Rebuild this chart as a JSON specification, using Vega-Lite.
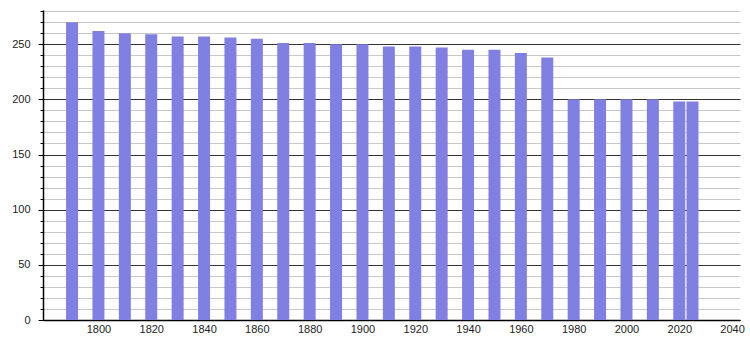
{
  "$schema": "https://vega.github.io/schema/vega-lite/v6.json",
  "autosize": "none",
  "padding": {"left": 43, "top": 10, "right": 10, "bottom": 20},
  "width": 697,
  "height": 310,
  "background": "white",
  "config": {
    "view": {"stroke": null},
    "axis": {"labelFont": "Liberation Sans", "labelFontSize": 11, "labelColor": "#222"}
  },
  "data": {
    "values": [
      {"year": 1790, "population": 270},
      {"year": 1800, "population": 262},
      {"year": 1810, "population": 260},
      {"year": 1820, "population": 259},
      {"year": 1830, "population": 257},
      {"year": 1840, "population": 257},
      {"year": 1850, "population": 256},
      {"year": 1860, "population": 255},
      {"year": 1870, "population": 251},
      {"year": 1880, "population": 251},
      {"year": 1890, "population": 250},
      {"year": 1900, "population": 250},
      {"year": 1910, "population": 248},
      {"year": 1920, "population": 248},
      {"year": 1930, "population": 247},
      {"year": 1940, "population": 245},
      {"year": 1950, "population": 245},
      {"year": 1960, "population": 242},
      {"year": 1970, "population": 238},
      {"year": 1980, "population": 200},
      {"year": 1990, "population": 200},
      {"year": 2000, "population": 200},
      {"year": 2010, "population": 200},
      {"year": 2020, "population": 198},
      {"year": 2025, "population": 198}
    ]
  },
  "mark": {"type": "bar", "width": 12, "color": "#8080e2"},
  "encoding": {
    "x": {
      "field": "year",
      "type": "quantitative",
      "scale": {"domain": [1779, 2043], "nice": false, "zero": false, "padding": 0},
      "axis": {
        "title": null,
        "values": [1800, 1820, 1840, 1860, 1880, 1900, 1920, 1940, 1960, 1980, 2000, 2020, 2040],
        "format": "d",
        "ticks": false,
        "grid": false,
        "labelPadding": 3,
        "domainColor": "#000",
        "domainWidth": 1.5,
        "labelFlush": false
      }
    },
    "y": {
      "field": "population",
      "type": "quantitative",
      "scale": {"domain": [0, 281], "nice": false, "padding": 0},
      "axis": {
        "title": null,
        "values": [0, 10, 20, 30, 40, 50, 60, 70, 80, 90, 100, 110, 120, 130, 140, 150, 160, 170, 180, 190, 200, 210, 220, 230, 240, 250, 260, 270, 280],
        "labelExpr": "datum.value % 50 === 0 ? datum.label : ''",
        "grid": true,
        "gridColor": {"condition": {"test": "datum.value % 50 === 0", "value": "#333333"}, "value": "#c8c8c8"},
        "gridWidth": 1,
        "tickColor": "#000",
        "tickSize": {"condition": {"test": "datum.value % 50 === 0", "value": 5}, "value": 3},
        "labelPadding": 8,
        "domainColor": "#000",
        "domainWidth": 1.5,
        "labelFlush": false,
        "labelBaseline": "middle"
      }
    }
  }
}
